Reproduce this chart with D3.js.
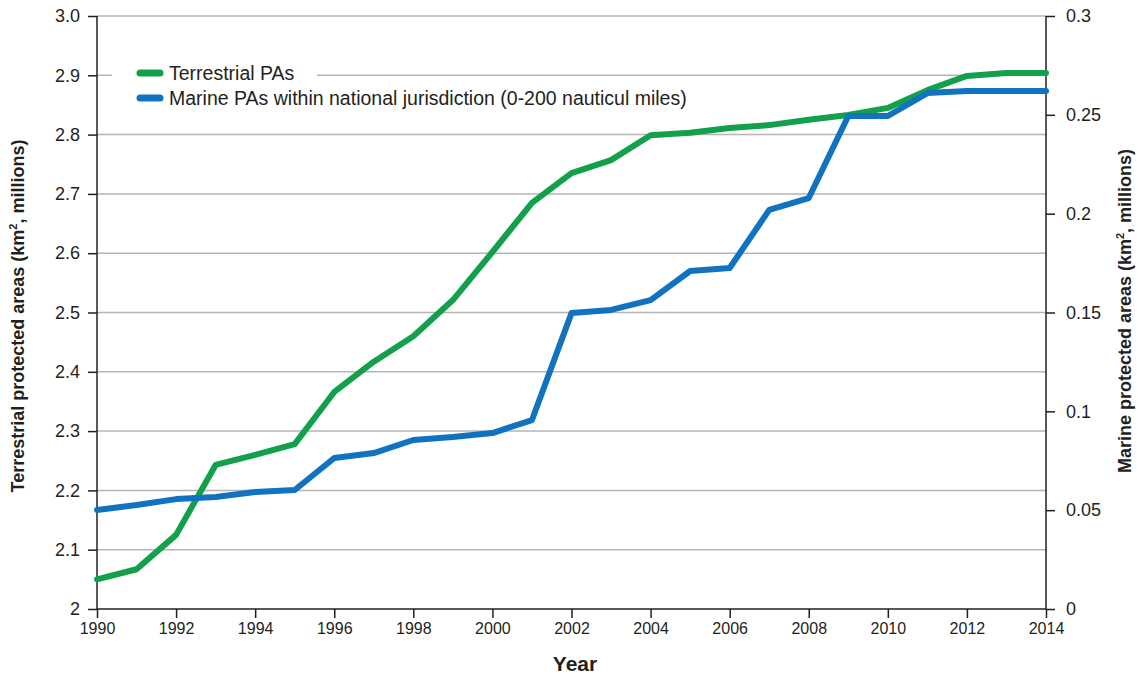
<!DOCTYPE html>
<html>
<head>
<meta charset="utf-8">
<script src="https://cdn.jsdelivr.net/npm/d3@7"></script>
<style>
  body { margin: 0; background: #fff; }
  svg text { font-family: "Liberation Sans", Arial, Helvetica, sans-serif; fill: #231f20; }
</style>
</head>
<body>
<svg id="chart" width="1137" height="679"></svg>
<script>
const years = d3.range(1990, 2015)
const terrestrial = [2.05, 2.067, 2.125, 2.243, 2.26, 2.278, 2.366, 2.417, 2.46, 2.521, 2.602, 2.685, 2.735, 2.757, 2.799, 2.803, 2.811, 2.816, 2.825, 2.833, 2.845, 2.875, 2.899, 2.904, 2.904]
const marine = [0.0501, 0.0526, 0.0556, 0.0567, 0.0592, 0.0602, 0.0764, 0.0789, 0.0855, 0.087, 0.089, 0.0956, 0.1497, 0.1513, 0.1563, 0.171, 0.1725, 0.2019, 0.2079, 0.2494, 0.2494, 0.261, 0.262, 0.262, 0.262]
const leftTicks = [2, 2.1, 2.2, 2.3, 2.4, 2.5, 2.6, 2.7, 2.8, 2.9, 3.0]
const rightTicks = [0, 0.05, 0.1, 0.15, 0.2, 0.25, 0.3]
const xTicks = d3.range(1990, 2015, 2)
const seriesNames = ['Terrestrial PAs', 'Marine PAs within national jurisdiction (0-200 nauticul miles)']
const colors = ['#12a04a', '#1172bf']

const svg = d3.select('#chart')
const m = { left: 97, right: 1046, top: 16, bottom: 609 }

const x = d3.scaleLinear().domain([1990, 2014]).range([m.left, m.right])
const yL = d3.scaleLinear().domain([2, 3]).range([m.bottom, m.top])
const yR = d3.scaleLinear().domain([0, 0.3]).range([m.bottom, m.top])

// gridlines
svg.append('g')
  .selectAll('line')
  .data(leftTicks.slice(1))
  .join('line')
  .attr('x1', m.left).attr('x2', m.right)
  .attr('y1', (d) => yL(d)).attr('y2', (d) => yL(d))
  .attr('stroke', '#b5b5b5')
  .attr('stroke-width', 1.5)

// white box behind first legend entry (it cuts the 2.9 gridline)
const legend = svg.append('g')
legend.append('rect')
  .attr('x', 112).attr('y', 62).attr('width', 205).attr('height', 26)
  .attr('fill', '#fff')

// axes
const leftAxis = svg.append('g')
  .attr('transform', `translate(${m.left},0)`)
  .call(d3.axisLeft(yL).tickValues(leftTicks).tickSize(9).tickPadding(8)
    .tickFormat((d) => (d === 2 ? '2' : d3.format('.1f')(d))))
const rightAxis = svg.append('g')
  .attr('transform', `translate(${m.right},0)`)
  .call(d3.axisRight(yR).tickValues(rightTicks).tickSize(9).tickPadding(11)
    .tickFormat((d) => String(+d.toFixed(2))))
const bottomAxis = svg.append('g')
  .attr('transform', `translate(0,${m.bottom})`)
  .call(d3.axisBottom(x).tickValues(xTicks).tickSize(9).tickPadding(5)
    .tickFormat(d3.format('d')))

for (const a of [leftAxis, rightAxis, bottomAxis]) {
  a.select('.domain').attr('stroke', '#231f20').attr('stroke-width', 1.5)
  a.selectAll('.tick line').attr('stroke', '#231f20').attr('stroke-width', 1.5)
  a.selectAll('.tick text').attr('fill', '#231f20')
}
leftAxis.selectAll('.tick text').style('font-size', '18px')
rightAxis.selectAll('.tick text').style('font-size', '18px')
bottomAxis.selectAll('.tick text').style('font-size', '16px')
leftAxis.select('.domain').attr('d', `M0,${m.top}V${m.bottom}`)
rightAxis.select('.domain').attr('d', `M0,${m.top}V${m.bottom}`)
bottomAxis.select('.domain').attr('d', `M${m.left},0H${m.right}`)

// lines
const lineT = d3.line().x((d, i) => x(years[i])).y((d) => yL(d))
const lineM = d3.line().x((d, i) => x(years[i])).y((d) => yR(d))

svg.append('path')
  .datum(terrestrial)
  .attr('d', lineT)
  .attr('fill', 'none')
  .attr('stroke', colors[0])
  .attr('stroke-width', 6)
  .attr('stroke-linejoin', 'round')
  .attr('stroke-linecap', 'round')

svg.append('path')
  .datum(marine)
  .attr('d', lineM)
  .attr('fill', 'none')
  .attr('stroke', colors[1])
  .attr('stroke-width', 6)
  .attr('stroke-linejoin', 'round')
  .attr('stroke-linecap', 'round')

// legend entries
seriesNames.forEach((name, i) => {
  const cy = 73 + i * 25
  legend.append('line')
    .attr('x1', 140).attr('x2', 160)
    .attr('y1', cy).attr('y2', cy)
    .attr('stroke', colors[i])
    .attr('stroke-width', 7)
    .attr('stroke-linecap', 'round')
  legend.append('text')
    .attr('x', 169).attr('y', cy + 7)
    .style('font-size', '19.5px')
    .text(name)
})

// axis titles
svg.append('text')
  .attr('transform', 'translate(24,316) rotate(-90)')
  .attr('text-anchor', 'middle')
  .style('font-size', '18px')
  .style('font-weight', 'bold')
  .html('Terrestrial protected areas (km<tspan dy="-7" font-size="11px">2</tspan><tspan dy="7">, millions)</tspan>')

svg.append('text')
  .attr('transform', 'translate(1131,311) rotate(-90)')
  .attr('text-anchor', 'middle')
  .style('font-size', '18px')
  .style('font-weight', 'bold')
  .html('Marine protected areas (km<tspan dy="-7" font-size="11px">2</tspan><tspan dy="7">, millions)</tspan>')

svg.append('text')
  .attr('x', 575)
  .attr('y', 671)
  .attr('text-anchor', 'middle')
  .style('font-size', '21px')
  .style('font-weight', 'bold')
  .text('Year')
</script>
</body>
</html>
